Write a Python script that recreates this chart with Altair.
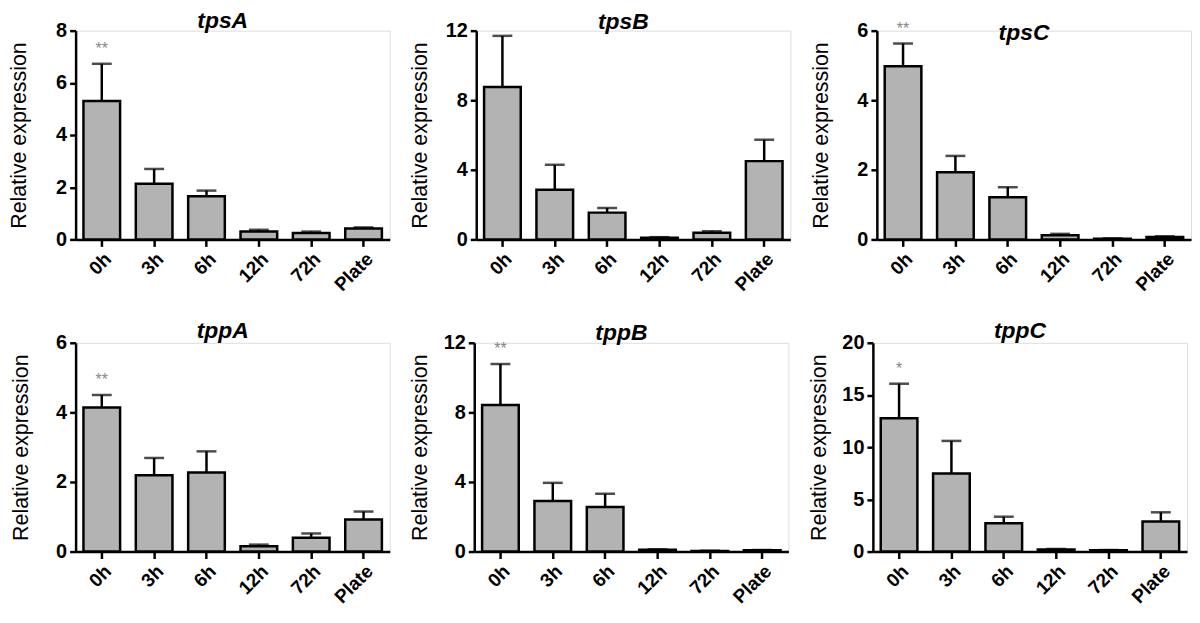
import altair as alt
import pandas as pd

cats = ["0h", "3h", "6h", "12h", "72h", "Plate"]

tpsA_mean = [5.30, 2.13, 1.65, 0.30, 0.25, 0.42]
tpsA_sem = [1.43, 0.57, 0.22, 0.07, 0.05, 0.04]
tpsA_star = ["**", "", "", "", "", ""]

tpsB_mean = [8.76, 2.86, 1.54, 0.10, 0.38, 4.50]
tpsB_sem = [2.94, 1.43, 0.27, 0.03, 0.09, 1.23]
tpsB_star = ["", "", "", "", "", ""]

tpsC_mean = [4.98, 1.93, 1.21, 0.12, 0.02, 0.07]
tpsC_sem = [0.65, 0.47, 0.29, 0.04, 0.01, 0.02]
tpsC_star = ["**", "", "", "", "", ""]

tppA_mean = [4.14, 2.19, 2.27, 0.15, 0.40, 0.92]
tppA_sem = [0.36, 0.50, 0.61, 0.05, 0.12, 0.23]
tppA_star = ["**", "", "", "", "", ""]

tppB_mean = [8.43, 2.90, 2.56, 0.10, 0.04, 0.07]
tppB_sem = [2.35, 1.05, 0.76, 0.03, 0.01, 0.02]
tppB_star = ["**", "", "", "", "", ""]

tppC_mean = [12.77, 7.48, 2.71, 0.20, 0.12, 2.87]
tppC_sem = [3.31, 3.12, 0.63, 0.05, 0.03, 0.89]
tppC_star = ["*", "", "", "", "", ""]

FONT = "Liberation Sans"
BAR_FILL = "#b3b3b3"


def panel(name, mean, sem, ymax, yticks, star, title_offset, title_x):
    df = pd.DataFrame({
        "cat": cats,
        "mean": mean,
        "upper": [m + s for m, s in zip(mean, sem)],
        "star": star,
    })
    x = alt.X(
        "cat:N", sort=cats,
        scale=alt.Scale(paddingInner=0.3, paddingOuter=0.15),
        axis=alt.Axis(
            title=None, labelAngle=-45, labelFont=FONT, labelFontSize=19,
            labelFontWeight="bold", labelColor="black", domainColor="black",
            domainWidth=2.5, tickColor="black", tickWidth=2.5, tickSize=7,
            labelPadding=3,
        ),
    )
    yscale = alt.Scale(domain=[0, ymax], nice=False, zero=True)
    y = alt.Y(
        "mean:Q", scale=yscale,
        axis=alt.Axis(
            title="Relative expression", values=yticks, grid=False,
            labelFont=FONT, labelFontSize=20, labelFontWeight="bold",
            labelColor="black", domainColor="black", domainWidth=2.5,
            tickColor="black", tickWidth=2.5, tickSize=6, labelPadding=3,
            titleFont=FONT, titleFontSize=21.5, titleFontWeight="normal",
            titleColor="black", titleX=title_x, titleY=105,
            titleAlign="center", titleBaseline="bottom",
        ),
    )
    base = alt.Chart(df)
    bars = base.mark_bar(fill=BAR_FILL, stroke="black", strokeWidth=2.5).encode(x=x, y=y)
    rule = base.mark_rule(color="black", strokeWidth=2.5).encode(
        x=alt.X("cat:N", sort=cats), y=alt.Y("mean:Q"), y2="upper:Q")
    cap = base.mark_tick(color="black", thickness=2.5, size=20).encode(
        x=alt.X("cat:N", sort=cats), y=alt.Y("upper:Q"))
    txt = base.transform_filter("datum.star != ''").mark_text(
        color="#888888", fontSize=16, font=FONT, dy=-15, baseline="middle"
    ).encode(x=alt.X("cat:N", sort=cats), y=alt.Y("upper:Q"), text="star:N")
    return alt.layer(bars, rule, cap, txt).properties(
        width=316, height=210,
        title=alt.Title(name, font=FONT, fontSize=23, fontStyle="italic",
                        fontWeight="bold", color="black", anchor="middle",
                        offset=title_offset, dx=-10),
    )


row1 = alt.hconcat(
    panel("tpsA", tpsA_mean, tpsA_sem, 8, [0, 2, 4, 6, 8], tpsA_star, -12, -45),
    panel("tpsB", tpsB_mean, tpsB_sem, 12, [0, 4, 8, 12], tpsB_star, -13, -45),
    panel("tpsC", tpsC_mean, tpsC_sem, 6, [0, 2, 4, 6], tpsC_star, -24, -45),
    spacing=18,
)
row2 = alt.hconcat(
    panel("tppA", tppA_mean, tppA_sem, 6, [0, 2, 4, 6], tppA_star, -10, -43),
    panel("tppB", tppB_mean, tppB_sem, 12, [0, 4, 8, 12], tppB_star, -12, -43),
    panel("tppC", tppC_mean, tppC_sem, 20, [0, 5, 10, 15, 20], tppC_star, -10, -43),
    spacing=18,
)

chart = alt.vconcat(row1, row2, spacing=23).properties(
    padding={"left": 0, "right": 0, "top": -1, "bottom": 0}
).configure_view(stroke=None).configure(background="white")

chart.save("out.html", embed_options={"renderer": "svg", "actions": False})
